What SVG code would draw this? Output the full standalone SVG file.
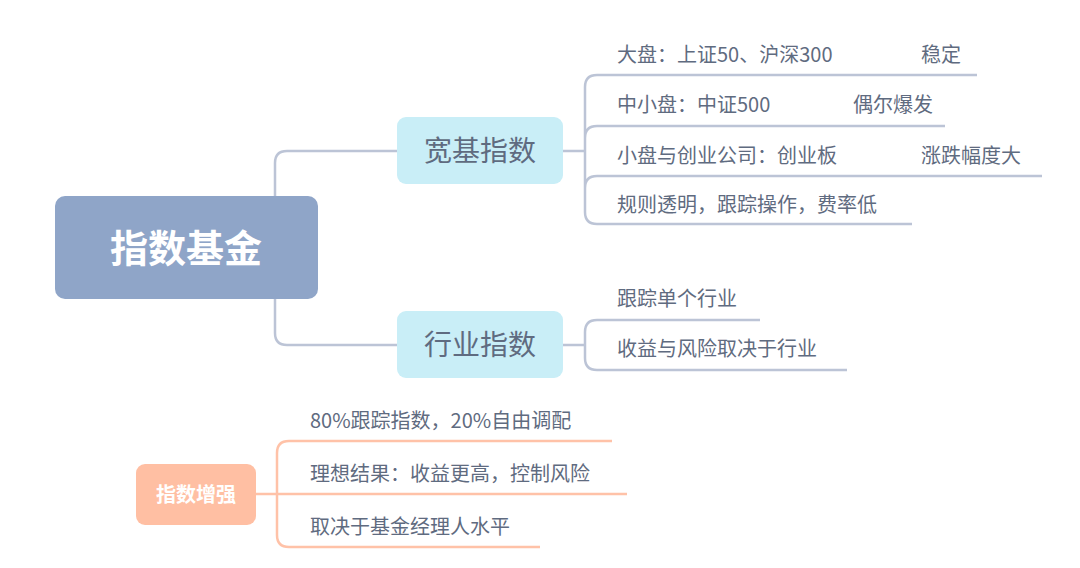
<svg xmlns="http://www.w3.org/2000/svg" width="1080" height="568" viewBox="0 0 1080 568">
<style>
.g{fill:none;stroke:#bcc4d6;stroke-width:2.5}
.o{fill:none;stroke:#ffc2a8;stroke-width:2.5}
.t{font-family:"Noto Sans CJK SC",sans-serif;font-size:20px;fill:#5f6b80}
.m{font-family:"Noto Sans CJK SC",sans-serif;font-size:28px;fill:#5f6b80;text-anchor:middle}
</style>
<rect width="1080" height="568" fill="#fff"/>
<g id="connectors">
<path class="g" d="M397 151H287Q275 151 275 163V196M275 299V333Q275 345 287 345H397"/>
<path class="g" d="M563 151H585M597 75Q585 75 585 87V212Q585 224 597 224H912M585 138Q585 126 597 126H945M585 188Q585 176 597 176H1042M597 75H977"/>
<path class="g" d="M563 345H585M597 320Q585 320 585 332V358Q585 370 597 370H847M597 320H760"/>
<path class="o" d="M256 494H277M289 441Q277 441 277 453V535Q277 547 289 547H540M289 441H612M277 494H627"/>
</g>
<g id="root"><rect x="55" y="196" width="263" height="103" rx="10" fill="#8fa5c8"/>
<text x="186" y="262" font-family="Noto Sans CJK SC,sans-serif" font-size="38" font-weight="bold" fill="#fff" text-anchor="middle">指数基金</text></g>
<g id="kuanji"><rect x="397" y="117" width="166" height="67" rx="9" fill="#c9eef7"/><text class="m" x="480" y="161">宽基指数</text></g>
<g id="hangye"><rect x="397" y="311" width="166" height="67" rx="9" fill="#c9eef7"/><text class="m" x="480" y="355">行业指数</text></g>
<g id="zengqiang"><rect x="136" y="464" width="120" height="61" rx="9" fill="#ffbfa3"/><text x="196" y="502" font-family="Noto Sans CJK SC,sans-serif" font-size="20" font-weight="bold" fill="#fff" text-anchor="middle">指数增强</text></g>
<g id="leaves">
<text class="t" x="617" y="62">大盘：上证50、沪深300</text><text class="t" x="921" y="62">稳定</text>
<text class="t" x="617" y="112">中小盘：中证500</text><text class="t" x="853" y="112">偶尔爆发</text>
<text class="t" x="617" y="163">小盘与创业公司：创业板</text><text class="t" x="921" y="163">涨跌幅度大</text>
<text class="t" x="617" y="212">规则透明，跟踪操作，费率低</text>
<text class="t" x="617" y="306">跟踪单个行业</text>
<text class="t" x="617" y="356">收益与风险取决于行业</text>
<text class="t" x="310" y="428">80%跟踪指数，20%自由调配</text>
<text class="t" x="310" y="481">理想结果：收益更高，控制风险</text>
<text class="t" x="310" y="534">取决于基金经理人水平</text>
</g>
</svg>
